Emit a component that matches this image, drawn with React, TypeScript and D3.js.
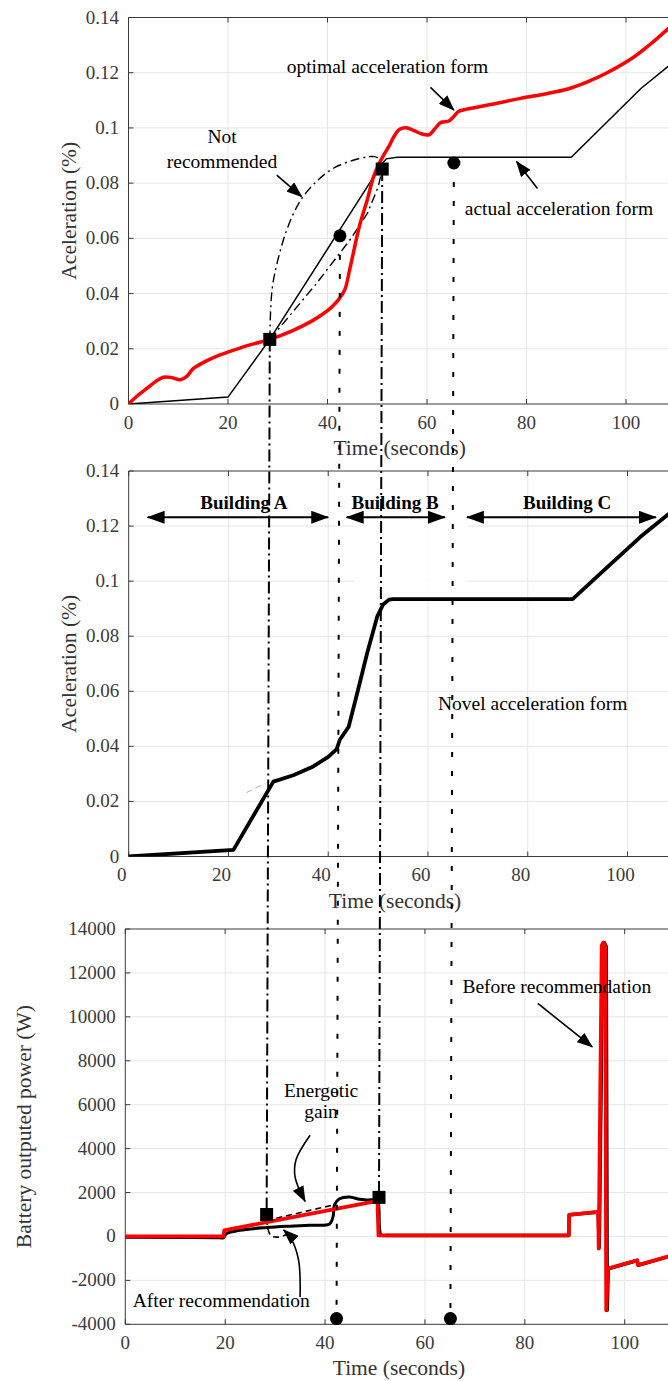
import React from "react";
import * as d3 from "d3";

type Pt = [number, number];

const W = 668;
const H = 1381;
const FONT = "'Liberation Serif', 'Times New Roman', serif";

// ---- shared ticks ----
const timeTicks = [0, 20, 40, 60, 80, 100, 120];
const accelTicks = [0, 0.02, 0.04, 0.06, 0.08, 0.1, 0.12, 0.14];
const powerTicks = [-4000, -2000, 0, 2000, 4000, 6000, 8000, 10000, 12000, 14000];

// ---- panel 1: acceleration forms ----
const optimalAccel: Pt[] = [
  [0, 0], [1.8, 0.003], [3.7, 0.0057], [5.5, 0.0082], [7, 0.0097], [8.6, 0.0096],
  [10.4, 0.0088], [11.6, 0.0098], [13, 0.0128], [15, 0.015], [17.3, 0.017],
  [19.7, 0.0186], [24.4, 0.0214], [28.4, 0.0234], [33, 0.0266], [37, 0.0302],
  [40, 0.0338], [41.6, 0.0365], [42.5, 0.0385], [43.5, 0.0415], [44.5, 0.049],
  [46.5, 0.065], [48, 0.074], [49.2, 0.082], [50.4, 0.0872], [51.4, 0.0905],
  [52.4, 0.0935], [53.4, 0.097], [54.5, 0.0995], [55.8, 0.1001], [57.4, 0.099],
  [59, 0.0978], [60.4, 0.0975], [61.5, 0.0995], [62.8, 0.102], [64.4, 0.1025],
  [65.3, 0.104], [66.4, 0.106], [68, 0.1068], [72, 0.1082], [78.8, 0.1107],
  [84, 0.1124], [88.1, 0.114], [92, 0.1165], [96, 0.1198], [101.6, 0.1257],
  [105, 0.1305], [108.5, 0.136], [110, 0.1385],
];
const actualAccel: Pt[] = [
  [0, 0], [20, 0.0025], [28.4, 0.0234], [50.8, 0.0866], [51.8, 0.0888],
  [54, 0.0894], [89, 0.0894], [103, 0.1143], [110, 0.1245],
];
const notRecommended: Pt[] = [
  [28.4, 0.0234], [28.6, 0.0353], [28.9, 0.042], [29.4, 0.0473], [30.5, 0.0555],
  [31.8, 0.063], [33.3, 0.0695], [35.1, 0.0751], [38, 0.081], [41.2, 0.0854],
  [45, 0.0882], [48, 0.0895], [49.5, 0.0896], [50.9, 0.0884],
];
const lowerDashDot: Pt[] = [
  [28.4, 0.0234], [33, 0.0333], [37.8, 0.0437], [44.5, 0.0594], [48, 0.069],
  [50.2, 0.0787], [51, 0.0851],
];
const squaresTop: Pt[] = [[28.4, 0.0234], [51, 0.0851]];
const circlesTop: Pt[] = [[42.5, 0.0609], [65.4, 0.0873]];

// ---- panel 2: novel acceleration form ----
const novelAccel: Pt[] = [
  [0, 0], [21, 0.0024], [29, 0.0272], [33, 0.0295], [37, 0.0327], [40, 0.0362],
  [41.7, 0.039], [42.3, 0.0423], [44.1, 0.0471], [45.8, 0.0592], [47.8, 0.0738],
  [49.8, 0.087], [51, 0.0915], [52.2, 0.0933], [53, 0.0935], [89, 0.0935],
  [94.6, 0.1028], [102.6, 0.1161], [108, 0.124], [110, 0.1268],
];
const faintTrace: Pt[] = [[23.6, 0.0232], [27.3, 0.0265]];
const buildingNames = ["Building A", "Building B", "Building C"];
const buildingFrom = [3.8, 43.7, 67.8];
const buildingTo = [40, 63.4, 105.7];
const buildingMid = [23.1, 53.4, 87.9];
const buildingLevel = 0.1232;
const buildingTextLevel = 0.1262;

// ---- panel 3: battery power ----
const powerBefore: Pt[] = [
  [0, 0], [19.7, 0], [19.8, 280], [50.5, 1620], [50.7, 50], [88.8, 50],
  [88.9, 980], [94.7, 1120], [94.8, -550], [95.4, 13250], [95.7, 13380],
  [96.1, 13200], [96.3, -3360], [96.6, -1460], [102.5, -1085], [102.7, -1300],
  [110, -830],
];
const powerAfterEarly: Pt[] = [
  [0, -40], [19, -60], [19.6, -70], [20.3, 130], [22.9, 280], [28.3, 405],
  [33, 470], [36.9, 510], [40.9, 570], [41.6, 900], [41.9, 1450], [42.9, 1720],
  [44.9, 1800], [46.9, 1690], [48.5, 1660], [50.3, 1650], [50.7, 1450],
  [50.9, 400], [51.2, 60], [52, 40],
];
const powerAfterLate: Pt[] = [
  [52, 40], [88.8, 40], [88.9, 990], [94.7, 1110], [94.9, -500], [95.6, 13250],
  [95.9, 13380], [96.3, 13200], [96.5, -3360], [96.7, -1470], [102.5, -1095],
  [102.7, -1310], [110, -840],
];
const gainDashed: Pt[] = [[28.3, 730], [41.4, 1420]];
const gainLoop: Pt[] = [[28.3, 800], [28.6, 300], [29.2, 30], [30.3, -30], [31.8, 40], [33, 200]];
const squaresBottom: Pt[] = [[28.3, 1000], [50.8, 1780]];
const circlesBottom: Pt[] = [[42.3, -3740], [65.1, -3740]];

// ---- annotation arrows (data units) ----
const optimalArrow: Pt[] = [[60.7, 0.1147], [65.4, 0.1065]];
const notRecArrow: Pt[] = [[29.8, 0.0829], [34.8, 0.0751]];
const actualArrow: Pt[] = [[82.2, 0.0781], [78.0, 0.0878]];
const beforeArrow: Pt[] = [[82.6, 10610], [93.5, 8633]];
const gainArrow: Pt[] = [[37.0, 4610], [34.2, 3500], [34.0, 2700], [36.0, 1600]];
const afterArrow: Pt[] = [[35.0, -2756], [34.7, -1084], [33.2, -100], [31.7, 300]];

// ---- scales ----
const x1 = d3.scaleLinear().domain([0, 100]).range([128.5, 626]);
const y1 = d3.scaleLinear().domain([0, 0.14]).range([404, 17.5]);
const x2 = d3.scaleLinear().domain([0, 100]).range([128.7, 627.5]);
const y2 = d3.scaleLinear().domain([0, 0.14]).range([856.5, 471]);
const x3 = d3.scaleLinear().domain([0, 100]).range([125.3, 624.7]);
const y3 = d3.scaleLinear().domain([-4000, 14000]).range([1324.3, 929]);

const fmtAccel = (v: number) => String(+v.toFixed(2));
const fmtPower = (v: number) => String(v);

function mkLine(sx: any, sy: any, curve: any = d3.curveLinear) {
  return d3.line<Pt>().x((d) => sx(d[0])).y((d) => sy(d[1])).curve(curve);
}

function Axes(props: any) {
  const { sx, sy, yTicks, fmt, xShift, titleX, yTitle, yTitleX, id } = props;
  const [bot, top] = sy.range();
  const left = sx(0);
  const xs = timeTicks.filter((t) => sx(t) < W - 4);
  return (
    <g fontFamily={FONT}>
      <clipPath id={id}>
        <rect x={left} y={top} width={W - left} height={bot - top} />
      </clipPath>
      {xs.filter((t) => t > 0).map((t) => (
        <line key={"gx" + t} x1={sx(t)} x2={sx(t)} y1={top} y2={bot} stroke="#e6e6e6" strokeWidth={1} />
      ))}
      {yTicks.slice(1, -1).map((v: number) => (
        <line key={"gy" + v} x1={left} x2={W} y1={sy(v)} y2={sy(v)} stroke="#e6e6e6" strokeWidth={1} />
      ))}
      <line x1={left} x2={W} y1={top} y2={top} stroke="#3a3a3a" strokeWidth={1} />
      <line x1={left} x2={W} y1={bot} y2={bot} stroke="#3a3a3a" strokeWidth={1} />
      <line x1={left} x2={left} y1={top} y2={bot} stroke="#3a3a3a" strokeWidth={1} />
      {xs.map((t) => (
        <g key={"tx" + t}>
          <line x1={sx(t)} x2={sx(t)} y1={bot} y2={bot - 5} stroke="#3a3a3a" />
          <line x1={sx(t)} x2={sx(t)} y1={top} y2={top + 5} stroke="#3a3a3a" />
          <text x={sx(t) + xShift} y={bot + 24.5} fontSize={19} fill="#3a3a3a" textAnchor="middle">
            {t}
          </text>
        </g>
      ))}
      {yTicks.map((v: number) => (
        <g key={"ty" + v}>
          <line x1={left} x2={left + 5} y1={sy(v)} y2={sy(v)} stroke="#3a3a3a" />
          <text x={left - 9.5} y={sy(v) + 6} fontSize={19} fill="#3a3a3a" textAnchor="end">
            {fmt(v)}
          </text>
        </g>
      ))}
      <text x={titleX} y={bot + 51} fontSize={21.5} fill="#333" textAnchor="middle">
        Time (seconds)
      </text>
      <text
        transform={`translate(${yTitleX},${(top + bot) / 2}) rotate(-90)`}
        fontSize={21.5}
        fill="#333"
        textAnchor="middle"
      >
        {yTitle}
      </text>
    </g>
  );
}

function Arrow({ pts, sx, sy, curve }: any) {
  return (
    <path
      d={mkLine(sx, sy, curve || d3.curveLinear)(pts) || ""}
      fill="none"
      stroke="#000"
      strokeWidth={1.6}
      markerEnd="url(#ah)"
    />
  );
}

export default function App() {
  const l1 = mkLine(x1, y1);
  const l1c = mkLine(x1, y1, d3.curveCatmullRom.alpha(0.5));
  const l2 = mkLine(x2, y2);
  const l3 = mkLine(x3, y3);
  const l3c = mkLine(x3, y3, d3.curveCatmullRom.alpha(0.5));
  const dashDot = "12,4,2,4";
  const dotted = "5,14";

  return (
    <svg
      width={W}
      height={H}
      viewBox={`0 0 ${W} ${H}`}
      style={{ position: "absolute", left: 0, top: 0, background: "#fff" }}
      fontFamily={FONT}
    >
      <defs>
        <marker id="ah" viewBox="0 0 16 12" markerWidth={16} markerHeight={12} refX={15} refY={6} orient="auto" markerUnits="userSpaceOnUse">
          <path d="M0,0 L16,6 L0,12 z" fill="#000" />
        </marker>
        <marker id="bh" viewBox="0 0 18 13" markerWidth={18} markerHeight={13} refX={17} refY={6.5} orient="auto-start-reverse" markerUnits="userSpaceOnUse">
          <path d="M0,0 L18,6.5 L0,13 z" fill="#000" />
        </marker>
      </defs>
      <rect width={W} height={H} fill="#fff" />

      {/* ---------- panel 1 ---------- */}
      <Axes sx={x1} sy={y1} yTicks={accelTicks} fmt={fmtAccel} xShift={0} titleX={x1(54.5)}
        yTitle="Aceleration (%)" yTitleX={76} id="c1" />
      <g clipPath="url(#c1)">
        <path d={l1(actualAccel) || ""} fill="none" stroke="#000" strokeWidth={1.5} />
        <path d={l1c(notRecommended) || ""} fill="none" stroke="#000" strokeWidth={1.4} strokeDasharray="9,4,2,4" />
        <path d={l1(lowerDashDot) || ""} fill="none" stroke="#000" strokeWidth={1.4} strokeDasharray="9,4,2,4" />
        <path d={l1c(optimalAccel) || ""} fill="none" stroke="#ff0000" strokeWidth={3.5} strokeLinejoin="round" />
      </g>
      <text x={x1(31.8)} y={y1(0.1199)} fontSize={19.5} fill="#000">optimal acceleration form</text>
      <Arrow pts={optimalArrow} sx={x1} sy={y1} />
      <text x={x1(18.8)} y={y1(0.0944)} fontSize={19.5} textAnchor="middle">Not</text>
      <text x={x1(18.8)} y={y1(0.0854)} fontSize={19.5} textAnchor="middle">recommended</text>
      <Arrow pts={notRecArrow} sx={x1} sy={y1} />
      <text x={x1(67.6)} y={y1(0.0685)} fontSize={19.5}>actual acceleration form</text>
      <Arrow pts={actualArrow} sx={x1} sy={y1} />

      {/* ---------- panel 2 ---------- */}
      <Axes sx={x2} sy={y2} yTicks={accelTicks} fmt={fmtAccel} xShift={-7} titleX={x2(53.4)}
        yTitle="Aceleration (%)" yTitleX={76} id="c2" />
      <rect x={x2(45.3)} y={y2(0.1205)} width={x2(68) - x2(45.3)} height={y2(0.0935) - y2(0.1205)} fill="#fff" opacity={0.85} />
      <g clipPath="url(#c2)">
        <path d={l2(faintTrace) || ""} fill="none" stroke="#999" strokeWidth={0.8} strokeDasharray="6,4" />
        <path d={l2(novelAccel) || ""} fill="none" stroke="#000" strokeWidth={3.8} strokeLinejoin="round" />
      </g>
      {buildingNames.map((name, i) => (
        <g key={name}>
          <line
            x1={x2(buildingFrom[i])} x2={x2(buildingTo[i])}
            y1={y2(buildingLevel)} y2={y2(buildingLevel)}
            stroke="#000" strokeWidth={2}
            markerStart="url(#bh)" markerEnd="url(#bh)"
          />
          <text x={x2(buildingMid[i])} y={y2(buildingTextLevel)} fontSize={19} fontWeight="bold" textAnchor="middle">
            {name}
          </text>
        </g>
      ))}
      <text x={x2(62.0)} y={y2(0.0532)} fontSize={19.5}>Novel acceleration form</text>

      {/* ---------- panel 3 ---------- */}
      <Axes sx={x3} sy={y3} yTicks={powerTicks} fmt={fmtPower} xShift={0} titleX={x3(54.8)}
        yTitle="Battery outputed power (W)" yTitleX={31} id="c3" />
      <g clipPath="url(#c3)">
        <path d={l3c(powerAfterEarly) || ""} fill="none" stroke="#000" strokeWidth={3} />
        <path d={l3(powerAfterLate) || ""} fill="none" stroke="#000" strokeWidth={3.5} strokeLinejoin="round" />
        <path d={l3(gainDashed) || ""} fill="none" stroke="#000" strokeWidth={1.6} strokeDasharray="6,4" />
        <path d={l3c(gainLoop) || ""} fill="none" stroke="#000" strokeWidth={1.6} strokeDasharray="6,4" />
        <path d={l3(powerBefore) || ""} fill="none" stroke="#ff0000" strokeWidth={3.8} strokeLinejoin="round" />
      </g>
      <text x={x3(39.2)} y={y3(6340)} fontSize={19.5} textAnchor="middle">Energetic</text>
      <text x={x3(39.2)} y={y3(5380)} fontSize={19.5} textAnchor="middle">gain</text>
      <Arrow pts={gainArrow} sx={x3} sy={y3} curve={d3.curveCatmullRom.alpha(0.5)} />
      <text x={x3(1.5)} y={y3(-3212)} fontSize={19.5}>After recommendation</text>
      <Arrow pts={afterArrow} sx={x3} sy={y3} curve={d3.curveCatmullRom.alpha(0.5)} />
      <text x={x3(67.5)} y={y3(11066)} fontSize={19.5}>Before recommendation</text>
      <Arrow pts={beforeArrow} sx={x3} sy={y3} />

      {/* ---------- connectors across panels ---------- */}
      {squaresTop.map((p, i) => (
        <line key={"sq" + i} x1={x1(p[0])} y1={y1(p[1])} x2={x3(squaresBottom[i][0])} y2={y3(squaresBottom[i][1])}
          stroke="#000" strokeWidth={2} strokeDasharray={dashDot} />
      ))}
      {circlesTop.map((p, i) => (
        <line key={"ci" + i} x1={x1(p[0])} y1={y1(p[1])} x2={x3(circlesBottom[i][0])} y2={y3(circlesBottom[i][1])}
          stroke="#000" strokeWidth={2} strokeDasharray={dotted} />
      ))}

      {/* ---------- markers ---------- */}
      {squaresTop.map((p, i) => (
        <rect key={"s1" + i} x={x1(p[0]) - 6.5} y={y1(p[1]) - 6.5} width={13} height={13} fill="#000" />
      ))}
      {squaresBottom.map((p, i) => (
        <rect key={"s3" + i} x={x3(p[0]) - 6.5} y={y3(p[1]) - 6.5} width={13} height={13} fill="#000" />
      ))}
      {circlesTop.map((p, i) => (
        <circle key={"c1" + i} cx={x1(p[0])} cy={y1(p[1])} r={6.5} fill="#000" />
      ))}
      {circlesBottom.map((p, i) => (
        <circle key={"c3" + i} cx={x3(p[0])} cy={y3(p[1])} r={6.5} fill="#000" />
      ))}
    </svg>
  );
}
